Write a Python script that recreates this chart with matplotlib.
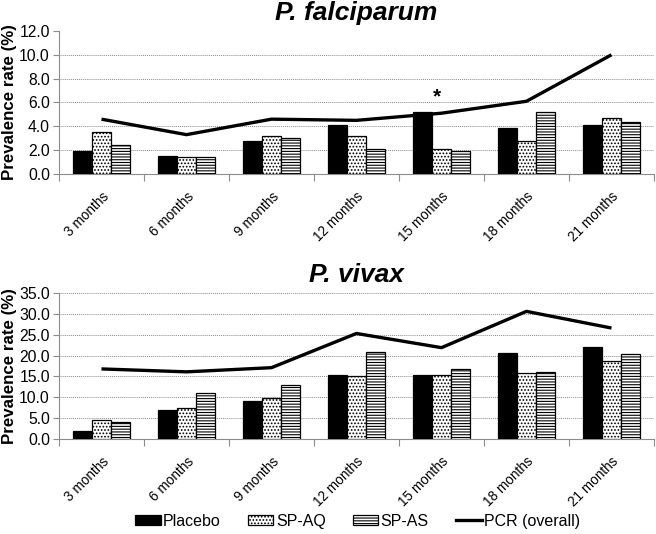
import matplotlib
import numpy as np

matplotlib.use("Agg")
import matplotlib.pyplot as plt
from matplotlib.lines import Line2D
from matplotlib.patches import Patch

plt.rcParams["font.family"] = ["Liberation Sans", "DejaVu Sans"]
plt.rcParams["hatch.linewidth"] = 0.8

MONTHS = ["3 months", "6 months", "9 months", "12 months", "15 months", "18 months", "21 months"]

# P. falciparum
FAL_PLACEBO = [1.9, 1.5, 2.8, 4.1, 5.2, 3.9, 4.1]
FAL_SPAQ = [3.5, 1.4, 3.2, 3.2, 2.1, 2.8, 4.7]
FAL_SPAS = [2.4, 1.45, 3.0, 2.1, 1.9, 5.2, 4.4]
FAL_PCR = [4.6, 3.3, 4.6, 4.5, 5.1, 6.1, 10.0]

# P. vivax
VIV_PLACEBO = [2.0, 6.9, 9.0, 15.3, 15.4, 20.6, 22.1]
VIV_SPAQ = [4.6, 7.5, 9.9, 15.1, 15.4, 15.9, 18.6]
VIV_SPAS = [4.1, 11.1, 12.9, 20.8, 16.9, 16.0, 20.4]
VIV_PCR = [16.8, 16.1, 17.1, 25.3, 21.9, 30.6, 26.6]

SIG_INDEX = 4
SIG_LABEL = "*"

W = 0.224
GRAY = "#8c8c8c"
LABEL_FONT = 12.2
TICK_FONT = 11.3
XTICK_FONT = 9.8


def draw_panel(ax, placebo, spaq, spas, pcr, ymax, ystep, title):
    x = np.arange(len(MONTHS))
    ax.bar(x - W, placebo, W, color="black", edgecolor="black", linewidth=0.9, zorder=3)
    ax.bar(x, spaq, W, color="white", edgecolor="black", linewidth=0.9, hatch=".....", zorder=3)
    ax.bar(x + W, spas, W, color="white", edgecolor="black", linewidth=0.9, hatch="------", zorder=3)
    ax.plot(x, pcr, color="black", linewidth=2.4, zorder=4, solid_capstyle="butt")

    ax.set_xlim(-0.5, len(MONTHS) - 0.5)
    ax.set_ylim(0, ymax)
    ticks = np.arange(0, ymax + 0.01, ystep)
    ax.set_yticks(ticks)
    ax.set_yticklabels([f"{v:.1f}" for v in ticks], fontsize=TICK_FONT)
    ax.yaxis.grid(True, color=GRAY, linestyle=(0, (1, 1)), linewidth=0.7, zorder=0)

    ax.set_xticks(x)
    ax.set_xticklabels(MONTHS, rotation=45, ha="right", va="top", rotation_mode="anchor", fontsize=XTICK_FONT)
    ax.set_xticks(np.arange(-0.5, len(MONTHS)), minor=True)
    ax.tick_params(axis="x", which="major", length=0, pad=11)
    ax.tick_params(axis="x", which="minor", length=5, color=GRAY, width=0.8)
    ax.tick_params(axis="y", length=4, color=GRAY, width=0.8, pad=2.5)

    for side in ["top", "right"]:
        ax.spines[side].set_visible(False)
    for side in ["left", "bottom"]:
        ax.spines[side].set_color(GRAY)
        ax.spines[side].set_linewidth(0.8)

    ax.set_ylabel("Prevalence rate (%)", fontsize=LABEL_FONT, fontweight="bold")
    ax.yaxis.set_label_coords(-0.071, 0.5)
    ax.set_title(title, fontsize=19, fontweight="bold", fontstyle="italic", pad=8)


fig = plt.figure(figsize=(6.56, 5.34), dpi=100)
ax_top = fig.add_axes([0.0899, 0.6742, 0.907, 0.2678])
ax_bot = fig.add_axes([0.0899, 0.1779, 0.907, 0.2734])

draw_panel(ax_top, FAL_PLACEBO, FAL_SPAQ, FAL_SPAS, FAL_PCR, 12, 2, "P. falciparum")
draw_panel(ax_bot, VIV_PLACEBO, VIV_SPAQ, VIV_SPAS, VIV_PCR, 35, 5, "P. vivax")

# no gridline on top of the falciparum panel
ax_top.yaxis.get_gridlines()[-1].set_visible(False)

ax_top.text(SIG_INDEX - 0.05, FAL_PCR[SIG_INDEX] + 0.6, SIG_LABEL, ha="center", va="bottom",
            fontsize=15, fontweight="bold")

handles = [
    Patch(facecolor="black", edgecolor="black", linewidth=0.9),
    Patch(facecolor="white", edgecolor="black", linewidth=0.9, hatch="....."),
    Patch(facecolor="white", edgecolor="black", linewidth=0.9, hatch="------"),
    Line2D([0], [0], color="black", linewidth=2.4),
]
labels = ["Placebo", "SP-AQ", "SP-AS", "PCR (overall)"]
fig.legend(handles, labels, loc="center", bbox_to_anchor=(0.545, 0.024), ncol=4, frameon=False,
           fontsize=11.5, handlelength=1.6, handleheight=0.6, handletextpad=0.15, columnspacing=1.7)

fig.savefig("out.png", dpi=100)
plt.close(fig)
